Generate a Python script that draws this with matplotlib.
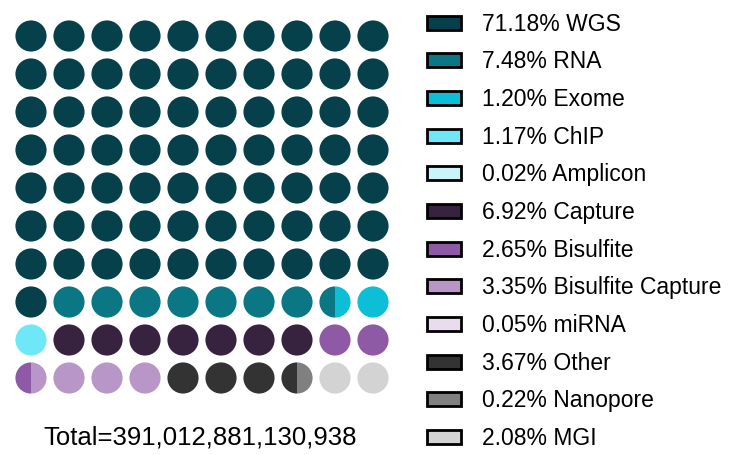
import matplotlib.pyplot as plt
from matplotlib.patches import Circle, Wedge, Patch

plt.rcParams['font.family'] = ['Liberation Sans', 'DejaVu Sans']

# data
categories = ['WGS', 'RNA', 'Exome', 'ChIP', 'Amplicon', 'Capture', 'Bisulfite',
              'Bisulfite Capture', 'miRNA', 'Other', 'Nanopore', 'MGI']
percents = [71.18, 7.48, 1.20, 1.17, 0.02, 6.92, 2.65, 3.35, 0.05, 3.67, 0.22, 2.08]
colors = ['#06404a', '#0b7785', '#0cbfd6', '#6ee8f6', '#c8f4fa', '#372240',
          '#8e5aa6', '#b896c8', '#e8dcee', '#333333', '#808080', '#d3d3d3']
total = 391012881130938

# allocate 200 half-circles via cumulative rounding
halves = []
cum = 0.0
prev = 0
for p, c in zip(percents, colors):
    cum += p
    n = int(round(cum * 2))
    halves += [c] * (n - prev)
    prev = n
halves = halves[:200]
while len(halves) < 200:
    halves.append(colors[-1])

fig = plt.figure(figsize=(7.43, 4.55), dpi=100)
ax = fig.add_axes([12 / 743, 58 / 455, 380 / 743, 380 / 455])
ax.set_xlim(-0.5, 9.5)
ax.set_ylim(9.5, -0.5)
ax.axis('off')

r = 0.41
for i in range(100):
    row, col = divmod(i, 10)
    left, right = halves[2 * i], halves[2 * i + 1]
    if left == right:
        ax.add_patch(Circle((col, row), r, color=left, lw=0))
    else:
        ax.add_patch(Wedge((col, row), r, 90, 270, color=left, lw=0))
        ax.add_patch(Wedge((col, row), r, -90, 90, color=right, lw=0))

fig.text(200 / 743, (455 - 438) / 455, 'Total={:,}'.format(total),
         ha='center', va='center', fontsize=18.5)

handles = [Patch(facecolor=c, edgecolor='black', linewidth=2) for c in colors]
labels = ['{:.2f}% {}'.format(p, n) for p, n in zip(percents, categories)]
fig.legend(handles, labels, loc='upper left', bbox_to_anchor=(427 / 743, 0.972),
           frameon=False, fontsize=16.5, borderpad=0, borderaxespad=0,
           handlelength=1.5, handleheight=0.55, handletextpad=0.92,
           labelspacing=0.64)

fig.savefig('out.png', dpi=100)
